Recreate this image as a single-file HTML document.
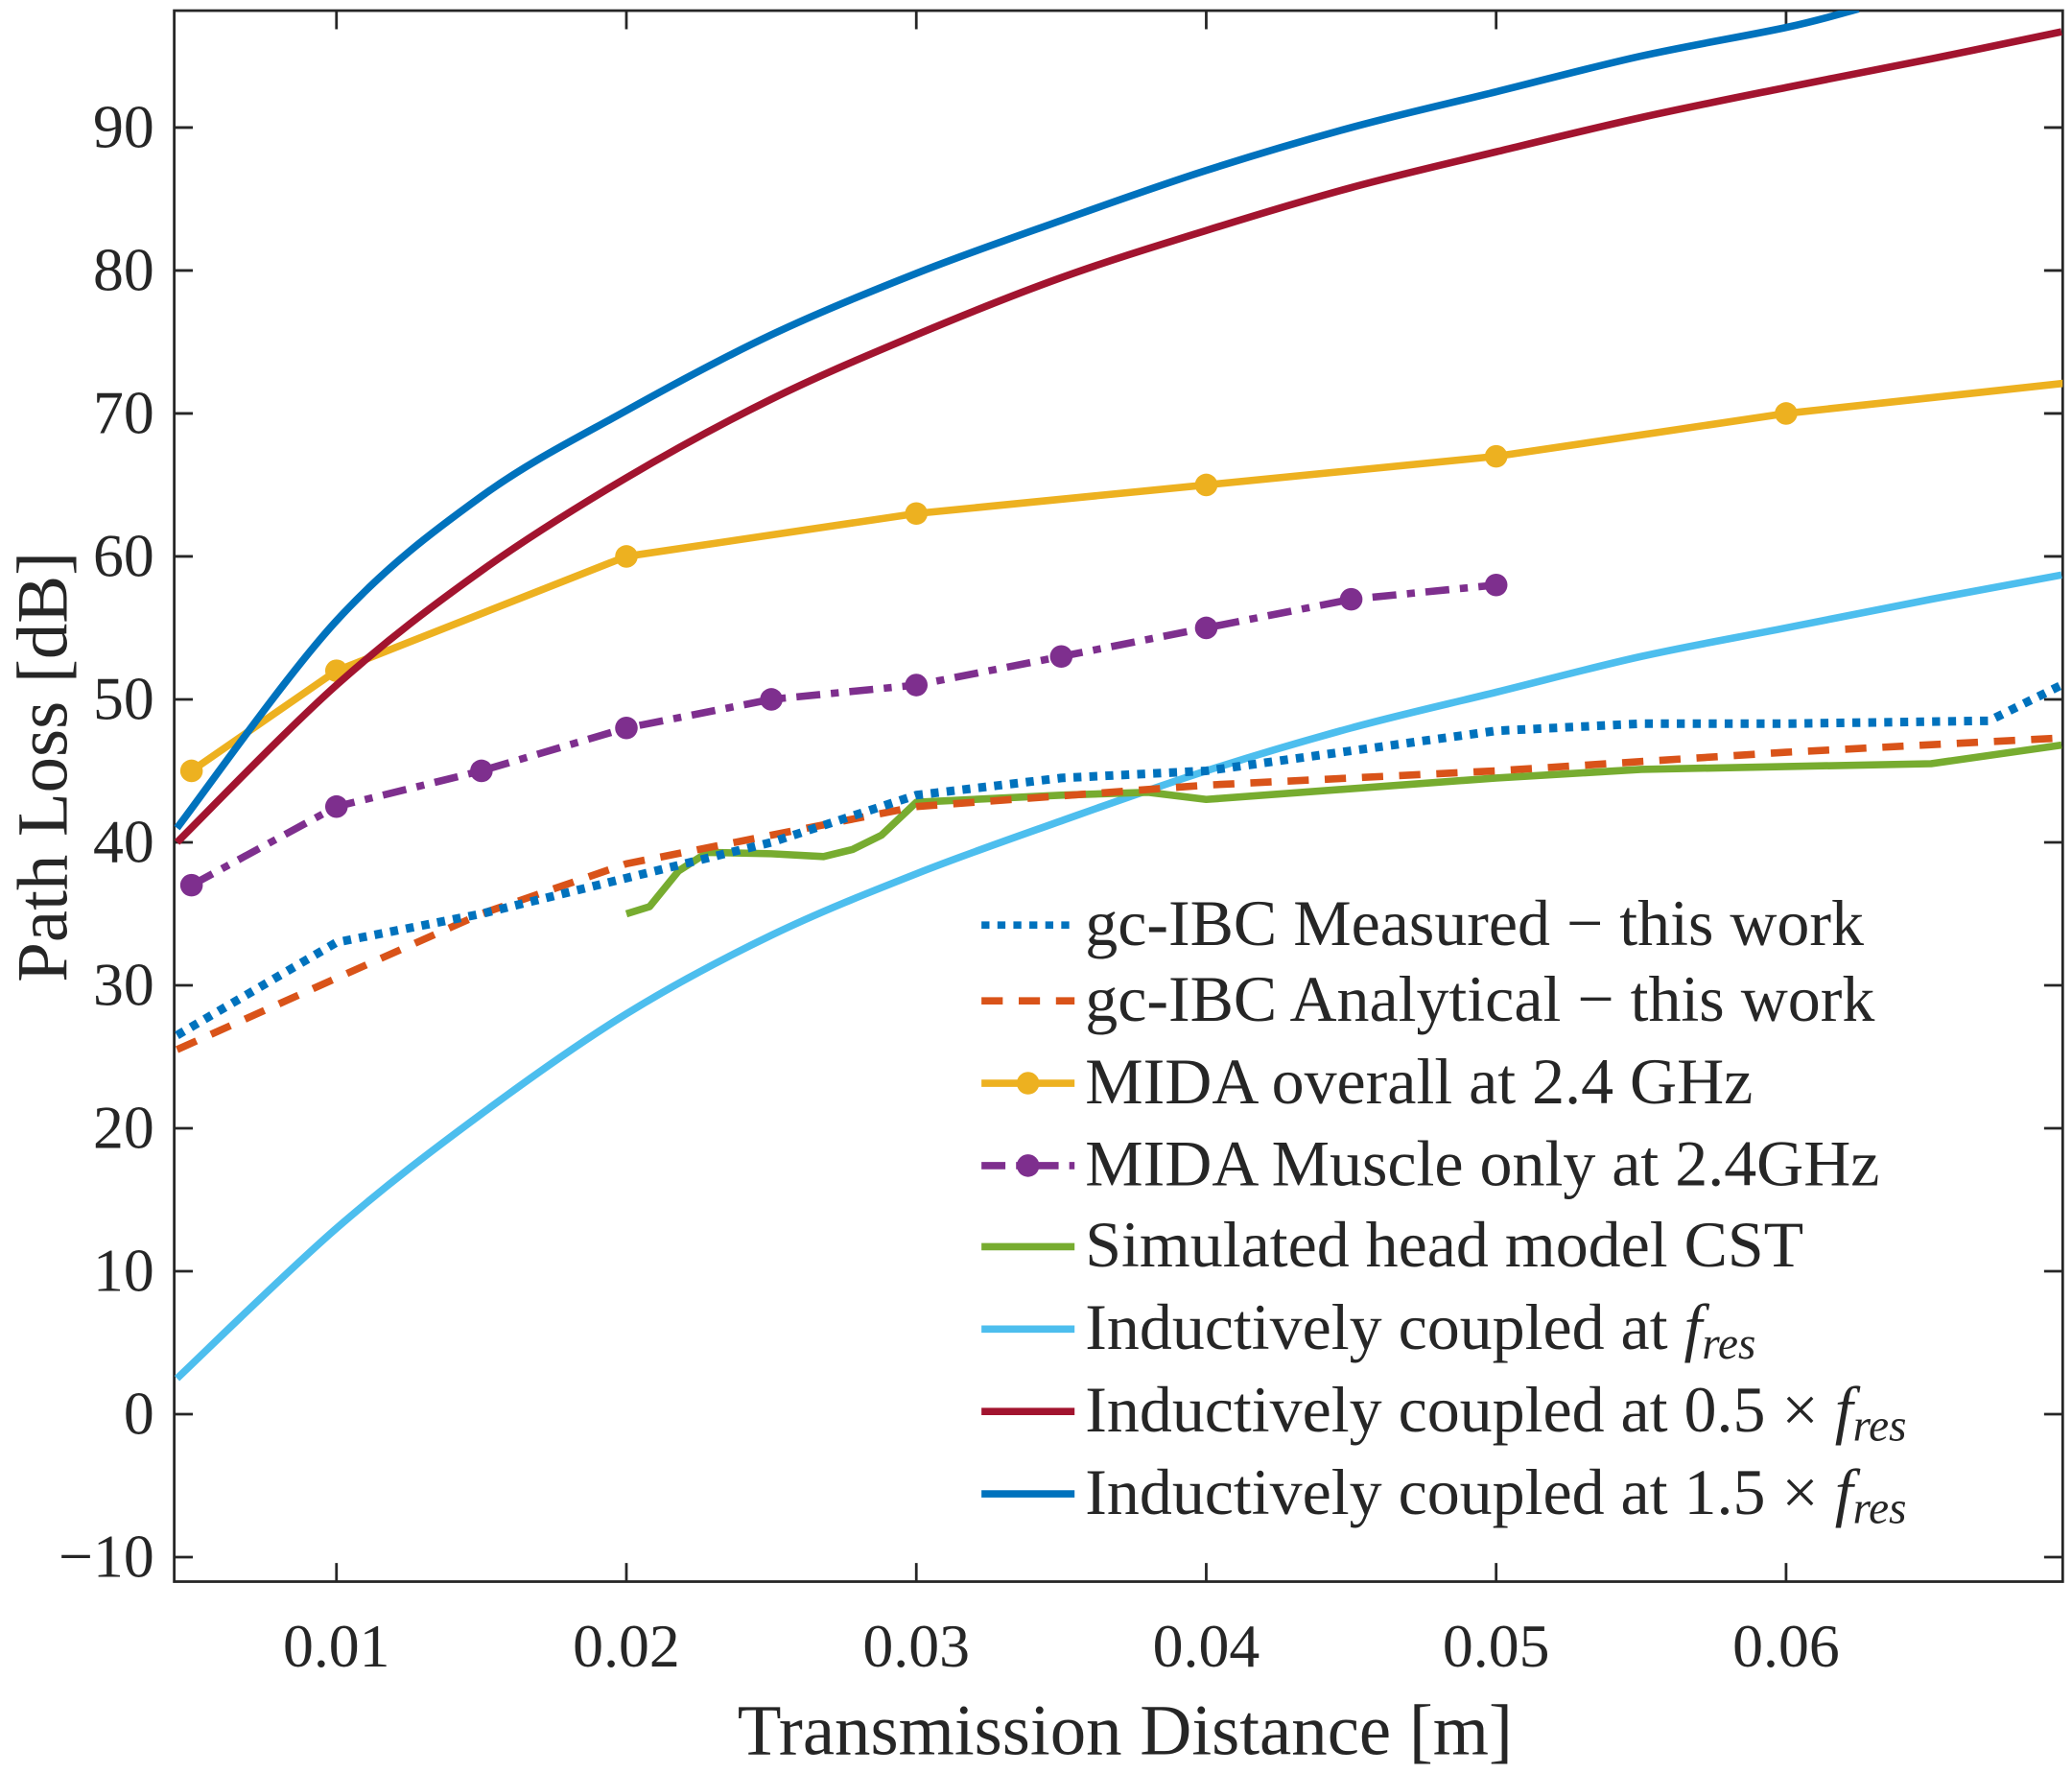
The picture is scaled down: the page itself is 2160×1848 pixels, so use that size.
<!DOCTYPE html>
<html><head><meta charset="utf-8"><style>
html,body{margin:0;padding:0;background:#fff}
svg{display:block}
text{font-family:"Liberation Serif",serif;fill:#262626}
</style></head><body>
<svg width="2160" height="1848" viewBox="0 0 1558 1334" preserveAspectRatio="none" xmlns="http://www.w3.org/2000/svg">
<defs><clipPath id="plot"><rect x="131" y="8" width="1420" height="1182"/></clipPath></defs>
<rect x="131" y="8" width="1420" height="1182" fill="#fff" stroke="#262626" stroke-width="2"/>
<g id="ticks"></g>
<g id="series" clip-path="url(#plot)"></g>
<text x="846" y="1320" font-size="54" text-anchor="middle">Transmission Distance [m]</text>
<text transform="translate(50,577) rotate(-90)" font-size="54" text-anchor="middle">Path Loss [dB]</text>
<g id="legend"></g>
</svg>
<script>
const xTicks=[0.01,0.02,0.03,0.04,0.05,0.06];
const xTickLabels=["0.01","0.02","0.03","0.04","0.05","0.06"];
const yTicks=[-10,0,10,20,30,40,50,60,70,80,90];
const yTickLabels=["\u221210","0","10","20","30","40","50","60","70","80","90"];

const measX=[0.0045,0.01,0.015,0.02,0.025,0.03,0.035,0.04,0.05,0.055,0.06,0.067,0.0695];
const measY=[26.5,33,35,37.5,40,43.3,44.5,45,47.8,48.3,48.3,48.5,51];
const anaX=[0.0045,0.01,0.015,0.02,0.025,0.03,0.04,0.05,0.06,0.0695];
const anaY=[25.5,30.5,35,38.5,40.5,42.5,44,45,46.3,47.3];
const midaX=[0.005,0.01,0.02,0.03,0.04,0.05,0.06,0.07];
const midaY=[45,52,60,63,65,67,70,72.2];
const muscX=[0.005,0.01,0.015,0.02,0.025,0.03,0.035,0.04,0.045,0.05];
const muscY=[37,42.5,45,48,50,51,53,55,57,58];
const cstX=[0.02,0.0208,0.0218,0.0228,0.025,0.0268,0.0278,0.0288,0.03,0.035,0.038,0.04,0.05,0.055,0.065,0.0695];
const cstY=[35,35.5,38,39.3,39.2,39,39.5,40.5,42.8,43.3,43.5,43,44.5,45.1,45.5,46.8];
const indX=[0.0045,0.01,0.015,0.02,0.025,0.03,0.035,0.04,0.045,0.05,0.055,0.06,0.065,0.0695];
const ind1Y=[2.5,13,21,28,33.5,37.8,41.5,45,48,50.5,53,55,57,58.7];
const ind05Y=[40,51,59,65.5,71,75.5,79.5,82.8,85.8,88.3,90.7,92.8,94.8,96.7];
const ind15X=[0.0045,0.01,0.015,0.02,0.025,0.03,0.035,0.04,0.045,0.05,0.055,0.06,0.0625];
const ind15Y=[41,55.5,64.2,70.2,75.5,79.8,83.5,87,90,92.5,95,97,98.3];

const NS="http://www.w3.org/2000/svg";
const sx=v=>253+(v-0.01)*21800;
const sy=v=>1064-v*10.756;
function mk(tag,attrs,parent){const e=document.createElementNS(NS,tag);for(const k in attrs)e.setAttribute(k,attrs[k]);parent.appendChild(e);return e;}
const T=document.getElementById('ticks'),S=document.getElementById('series'),L=document.getElementById('legend');
xTicks.forEach((v,i)=>{
 const t=mk('line',{x1:sx(v),x2:sx(v),y1:1190,y2:1176,stroke:'#262626','stroke-width':2},T);
 
 
 const t2=mk('line',{x1:sx(v),x2:sx(v),y1:8,y2:22,stroke:'#262626','stroke-width':2},T);
 
 
 const l=mk('text',{x:sx(v),y:1254,'font-size':46,'text-anchor':'middle'},T);l.textContent=xTickLabels[i];
 
 
});
yTicks.forEach((v,i)=>{
 const t=mk('line',{x1:131,x2:145,y1:sy(v),y2:sy(v),stroke:'#262626','stroke-width':2},T);
 
 
 const t2=mk('line',{x1:1537,x2:1551,y1:sy(v),y2:sy(v),stroke:'#262626','stroke-width':2},T);
 
 
 const l=mk('text',{x:116,y:sy(v)+15,'font-size':46,'text-anchor':'end'},T);l.textContent=yTickLabels[i];
 
 
});
function line(xs,ys,color,dash,name,w){
 const p=mk('polyline',{points:xs.map((x,i)=>sx(x)+','+sy(ys[i])).join(' '),fill:'none',stroke:color,'stroke-width':w||5.5,'stroke-dasharray':dash||'none','stroke-linejoin':'round'},S);
 
 
}
function smooth(xs,ys,color,name){
 const P=xs.map((x,i)=>[sx(x),sy(ys[i])]);
 let d='M'+P[0][0]+','+P[0][1];
 for(let i=0;i<P.length-1;i++){
  const p0=P[Math.max(i-1,0)],p1=P[i],p2=P[i+1],p3=P[Math.min(i+2,P.length-1)];
  const c1=[p1[0]+(p2[0]-p0[0])/6,p1[1]+(p2[1]-p0[1])/6];
  const c2=[p2[0]-(p3[0]-p1[0])/6,p2[1]-(p3[1]-p1[1])/6];
  d+=' C'+c1[0]+','+c1[1]+' '+c2[0]+','+c2[1]+' '+p2[0]+','+p2[1];
 }
 const p=mk('path',{d:d,fill:'none',stroke:color,'stroke-width':5.5},S);
 
 
}
function markers(xs,ys,color,name,n){
 xs.slice(0,n).forEach((x,i)=>{const c=mk('circle',{cx:sx(x),cy:sy(ys[i]),r:8.5,fill:color},S);
 
 });
}
smooth(indX,ind1Y,'#4DBEEE','line-inductive-fres');
line(cstX,cstY,'#77AC30',null,'line-cst-head');
line(anaX,anaY,'#D95319','16 12','line-analytical');
line(measX,measY,'#0072BD','6 6','line-measured',6.5);
line(muscX,muscY,'#7E2F8E','18 8 6 8','line-mida-muscle');
markers(muscX,muscY,'#7E2F8E','marker-mida-muscle',10);
line(midaX,midaY,'#EDB120',null,'line-mida-overall');
markers(midaX,midaY,'#EDB120','marker-mida-overall',7);
smooth(indX,ind05Y,'#A2142F','line-inductive-05fres');
smooth(ind15X,ind15Y,'#0072BD','line-inductive-15fres');

const legNames=['gc-IBC Measured \u2212 this work','gc-IBC Analytical \u2212 this work','MIDA overall at 2.4 GHz','MIDA Muscle only at 2.4GHz','Simulated head model CST','Inductively coupled at ','Inductively coupled at 0.5 \u00d7 ','Inductively coupled at 1.5 \u00d7 '];
const legColors=['#0072BD','#D95319','#EDB120','#7E2F8E','#77AC30','#4DBEEE','#A2142F','#0072BD'];
const legDash=['6 6','16 12','none','18 8 6 8','none','none','none','none'];
const legY=[696,753,815,877,938,1000,1062,1124];
legNames.forEach((n,i)=>{
 const y=legY[i];
 const l=mk('line',{x1:738,x2:808,y1:y,y2:y,stroke:legColors[i],'stroke-width':5.5,'stroke-dasharray':legDash[i]},L);
 
 
 if(i===2||i===3){const c=mk('circle',{cx:773,cy:y,r:8.5,fill:legColors[i]},L);
  
  }
 const t=mk('text',{x:816,y:y+15,'font-size':49},L);
 
 
 t.textContent=n;
 if(i>=5){const ts=mk('tspan',{'font-style':'italic'},t);ts.textContent='f';
  const s=mk('tspan',{'font-style':'italic','font-size':34,dy:7},t);s.textContent='res';}
});
</script>
</body></html>
